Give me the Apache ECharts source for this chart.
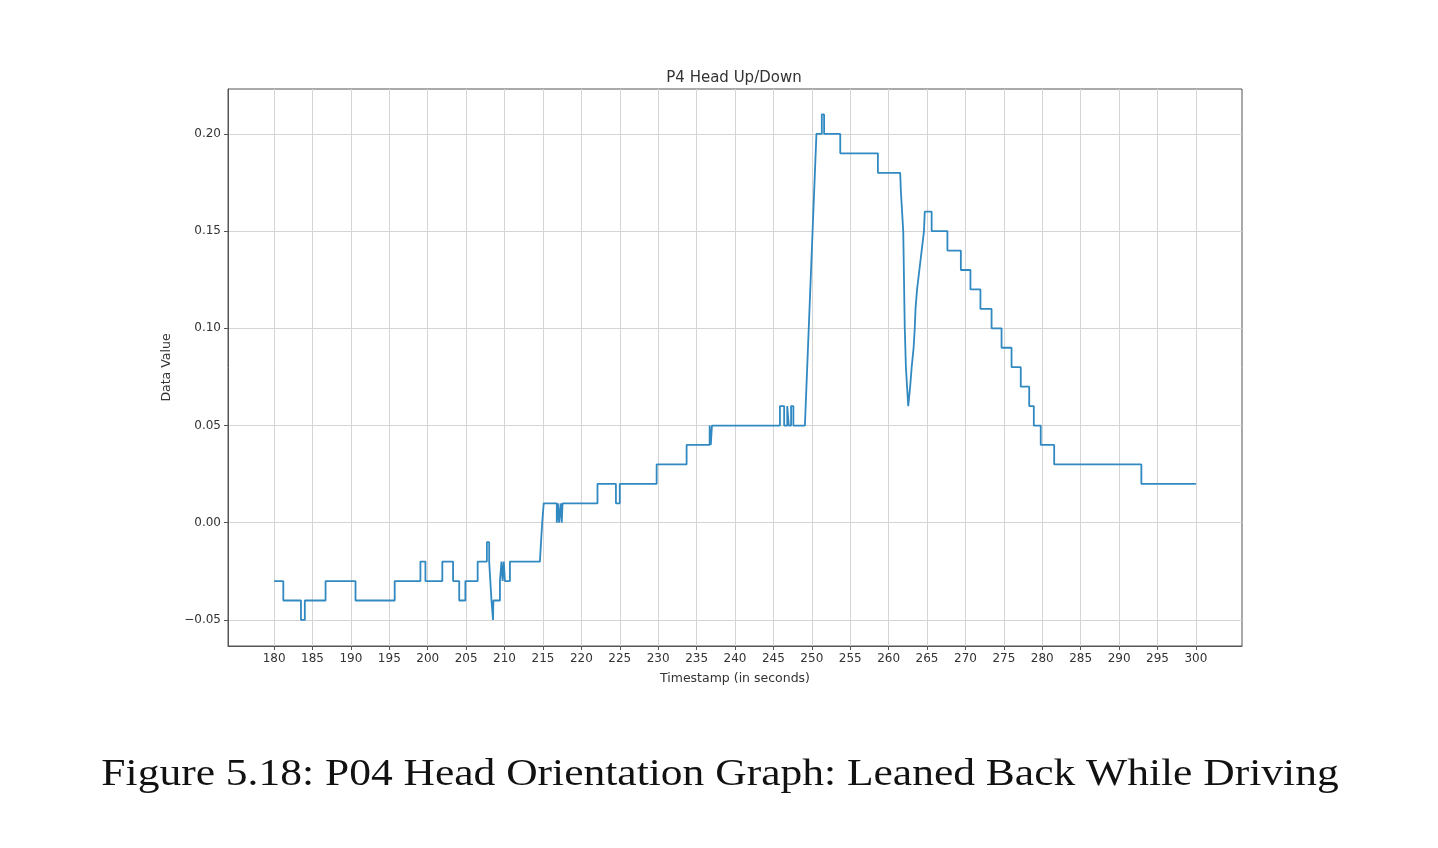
<!DOCTYPE html>
<html>
<head>
<meta charset="utf-8">
<title>P4 Head Up/Down</title>
<script src="https://cdn.jsdelivr.net/npm/echarts@6/dist/echarts.min.js"></script>
<style>
  html, body { margin: 0; padding: 0; background: #fff; }
  #chart { width: 1438px; height: 848px; }
</style>
</head>
<body>
<div id="chart"></div>
<script>
// breakpoints (seconds, value); repeated times = vertical steps
const times = [
    180, 181.2, 181.2, 183.5, 183.5, 184.0, 184.0, 186.7, 186.7, 190.6, 190.6,
    195.7, 195.7, 199.05, 199.05, 199.7, 199.7, 201.9, 201.9, 203.3, 203.3,
    204.1, 204.1, 204.9, 204.9, 206.5, 206.5, 207.7, 207.7, 208.0, 208.0,
    208.3, 208.45, 208.5, 208.55, 209.4, 209.4,
    209.6, 209.6, 209.75, 209.75, 209.9, 209.9, 210.05, 210.05, 210.2,
    210.7, 210.7, 214.6, 214.9, 215.1,
    216.8, 216.8, 216.95, 216.95, 217.1, 217.1, 217.3, 217.3, 217.45, 217.45, 217.55, 217.55,
    222.1, 222.1, 224.5, 224.5, 225.0, 225.0, 229.8, 229.8, 233.7, 233.7,
    236.7, 236.7, 236.85, 236.85, 237.0, 237.0,
    245.85, 245.85, 246.4, 246.4, 246.8, 246.8, 247.0, 247.0, 247.3, 247.3, 247.6, 247.6,
    249.1, 249.3, 249.6, 250.1, 250.6,
    251.3, 251.3, 251.6, 251.6, 253.7, 253.7, 258.6, 258.6,
    261.5, 261.6, 261.75, 261.9, 262.1, 262.25, 262.4, 262.55, 262.65,
    262.8, 263.0, 263.25, 263.4, 263.5, 263.7, 264.0, 264.3, 264.6, 264.7,
    265.6, 265.6, 267.65, 267.65, 269.4, 269.4, 270.65, 270.65, 271.95, 271.95,
    273.4, 273.4, 274.7, 274.7, 276.0, 276.0, 277.2, 277.2, 278.3, 278.3,
    278.9, 278.9, 279.8, 279.8, 281.55, 281.55, 292.9, 292.9, 300
];
const values = [
    -0.03, -0.03, -0.04, -0.04, -0.05, -0.05, -0.04, -0.04, -0.03, -0.03, -0.04,
    -0.04, -0.03, -0.03, -0.02, -0.02, -0.03, -0.03, -0.02, -0.02, -0.03,
    -0.03, -0.04, -0.04, -0.03, -0.03, -0.02, -0.02, -0.01, -0.01, -0.02,
    -0.04, -0.04, -0.05, -0.04, -0.04, -0.03,
    -0.03, -0.02, -0.02, -0.03, -0.03, -0.02, -0.02, -0.03, -0.03,
    -0.03, -0.02, -0.02, 0.00, 0.01,
    0.01, 0.00, 0.00, 0.01, 0.01, 0.00, 0.00, 0.01, 0.01, 0.00, 0.00, 0.01,
    0.01, 0.02, 0.02, 0.01, 0.01, 0.02, 0.02, 0.03, 0.03, 0.04,
    0.04, 0.05, 0.05, 0.04, 0.04, 0.05,
    0.05, 0.06, 0.06, 0.05, 0.05, 0.06, 0.06, 0.05, 0.05, 0.06, 0.06, 0.05,
    0.05, 0.07, 0.10, 0.15, 0.20,
    0.20, 0.21, 0.21, 0.20, 0.20, 0.19, 0.19, 0.18,
    0.18, 0.17, 0.17, 0.15, 0.10, 0.08, 0.07, 0.06, 0.06,
    0.07, 0.08, 0.09, 0.10, 0.11, 0.12, 0.13, 0.14, 0.15, 0.16,
    0.16, 0.15, 0.15, 0.14, 0.14, 0.13, 0.13, 0.12, 0.12, 0.11,
    0.11, 0.10, 0.10, 0.09, 0.09, 0.08, 0.08, 0.07, 0.07, 0.06,
    0.06, 0.05, 0.05, 0.04, 0.04, 0.03, 0.03, 0.02, 0.02
];
const xTicks = [180, 185, 190, 195, 200, 205, 210, 215, 220, 225, 230, 235, 240,
    245, 250, 255, 260, 265, 270, 275, 280, 285, 290, 295, 300];
const yTicks = [-0.05, 0.00, 0.05, 0.10, 0.15, 0.20];

const chartDom = document.getElementById('chart');
let myChart = echarts.init(chartDom);
let option;

const textColor = '#333';
const frameColor = '#555';
const gridColor = '#d4d4d4';

let points = [];
for (let i = 0; i < times.length; i++) {
    points.push([times[i], values[i]]);
}

option = {
    animation: false,
    backgroundColor: '#fff',
    textStyle: {
        fontFamily: 'DejaVu Sans'
    },
    title: {
        text: 'P4 Head Up/Down',
        left: 729,
        top: 66,
        textAlign: 'center',
        textStyle: {
            fontFamily: 'DejaVu Sans',
            fontSize: 15,
            fontWeight: 'normal',
            color: textColor
        }
    },
    grid: {
        left: 228,
        right: 196,
        top: 89,
        bottom: 202,
        show: true,
        borderColor: frameColor,
        borderWidth: 1
    },
    xAxis: {
        type: 'value',
        min: 174,
        max: 306,
        name: 'Timestamp (in seconds)',
        nameLocation: 'middle',
        nameGap: 26,
        nameTextStyle: {
            fontFamily: 'DejaVu Sans',
            fontSize: 12.5,
            color: textColor
        },
        axisLine: {
            show: true,
            onZero: false,
            lineStyle: { color: frameColor, width: 1 }
        },
        axisTick: {
            show: true,
            length: 4,
            lineStyle: { color: frameColor },
            customValues: xTicks
        },
        axisLabel: {
            fontFamily: 'DejaVu Sans',
            fontSize: 12,
            color: textColor,
            margin: 7,
            customValues: xTicks
        },
        splitLine: {
            show: true,
            lineStyle: { color: gridColor, width: 1 }
        }
    },
    yAxis: {
        type: 'value',
        min: -0.0634,
        max: 0.2231,
        name: 'Data Value',
        nameLocation: 'middle',
        nameGap: 55,
        nameTextStyle: {
            fontFamily: 'DejaVu Sans',
            fontSize: 12.5,
            color: textColor
        },
        axisLine: {
            show: true,
            onZero: false,
            lineStyle: { color: frameColor, width: 1 }
        },
        axisTick: {
            show: true,
            length: 4,
            lineStyle: { color: frameColor },
            customValues: yTicks
        },
        axisLabel: {
            fontFamily: 'DejaVu Sans',
            fontSize: 12,
            color: textColor,
            margin: 7,
            customValues: yTicks,
            formatter: function (v) {
                return v.toFixed(2).replace('-', '\u2212');
            }
        },
        splitLine: {
            show: true,
            lineStyle: { color: gridColor, width: 1 }
        }
    },
    graphic: [
        {
            type: 'text',
            x: 720,
            y: 775,
            scaleX: 1.145,
            style: {
                text: 'Figure 5.18: P04 Head Orientation Graph: Leaned Back While Driving',
                font: '38px "Liberation Serif"',
                fill: '#111',
                align: 'center',
                verticalAlign: 'middle'
            }
        }
    ],
    series: [
        {
            type: 'line',
            data: points,
            showSymbol: false,
            lineStyle: { color: '#3189c1', width: 1.8 },
            emphasis: { disabled: true }
        }
    ]
};

option && myChart.setOption(option);
</script>
</body>
</html>
